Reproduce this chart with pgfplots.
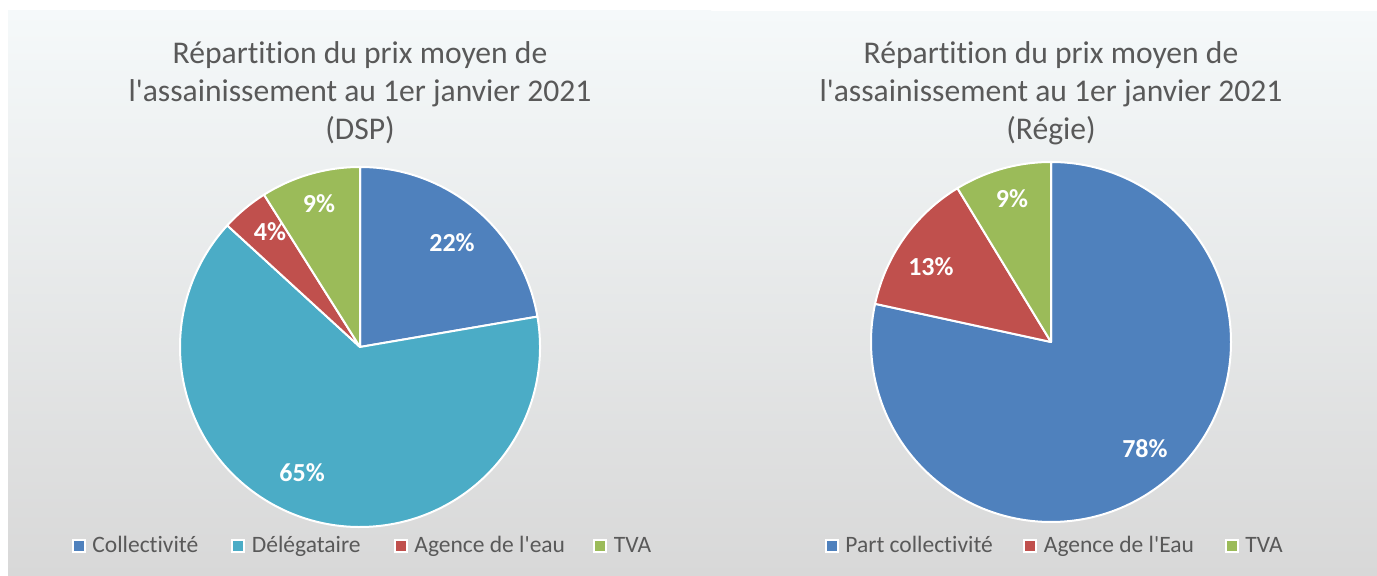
\documentclass[border=0pt]{standalone}
\usepackage{pgfplots}
\pgfplotsset{compat=1.18}
\usepackage{pgfplotstable}
\usepackage{fontspec}
\setmainfont{Carlito}[Ligatures={TeXOff,NoCommon}]

\definecolor{pblue}{HTML}{4F81BD}
\definecolor{pteal}{HTML}{4BACC6}
\definecolor{pred}{HTML}{C0504D}
\definecolor{pgreen}{HTML}{9BBB59}
\definecolor{txt}{HTML}{595959}
\definecolor{bgtop}{HTML}{F5F9FA}
\definecolor{bgbot}{HTML}{D8D8D8}

\newcommand{\titlefont}{\fontsize{15.8pt}{19pt}\selectfont}
\newcommand{\legfont}{\fontsize{11.75pt}{14pt}\selectfont}
\newcommand{\labelfont}{\fontsize{13pt}{15pt}\selectfont\bfseries}

% shares in percent, clockwise from 12 o'clock; lx ly = label position (radius units)
\pgfplotstableread{
part value col lx ly
Collectivite 22.3 pblue 0.511 0.578
Delegataire 64.5 pteal -0.322 -0.700
Agence 4.25 pred -0.500 0.639
TVA 8.95 pgreen -0.228 0.794
}\dsp
\pgfplotstableread{
part value col lx ly
Collectivite 78.4 pblue 0.522 -0.594
Agence 12.9 pred -0.667 0.417
TVA 8.7 pgreen -0.217 0.794
}\regie

\newcommand{\drawpie}[1]{%
  \pgfplotstablegetrowsof{#1}%
  \pgfmathtruncatemacro\lastrow{\pgfplotsretval-1}%
  \def\cum{0}%
  \pgfplotsforeachungrouped \i in {0,...,\lastrow}{%
    \pgfplotstablegetelem{\i}{value}\of{#1}\let\val\pgfplotsretval
    \pgfplotstablegetelem{\i}{col}\of{#1}\let\col\pgfplotsretval
    \pgfplotstablegetelem{\i}{lx}\of{#1}\let\lx\pgfplotsretval
    \pgfplotstablegetelem{\i}{ly}\of{#1}\let\ly\pgfplotsretval
    \pgfmathsetmacro\aS{90-3.6*\cum}%
    \pgfmathsetmacro\cum{\cum+\val}%
    \pgfmathsetmacro\aE{90-3.6*\cum}%
    \pgfmathsetmacro\sx{cos(\aS)}\pgfmathsetmacro\sy{sin(\aS)}%
    \pgfmathtruncatemacro\pct{round(\val)}%
    \edef\doslice{%
      \noexpand\fill[\col, draw=white, line width=1pt, line join=round]
        (axis cs:0,0) -- (axis cs:\sx,\sy)
        arc[start angle=\aS, end angle=\aE, radius=90pt] -- cycle;
      \noexpand\node[text=white, font=\noexpand\labelfont] at (axis cs:\lx,\ly) {\pct\noexpand\%};
    }\doslice
  }%
}

\newcommand{\legitem}[3]{% x of square centre (pt), colour, text
  \fill[#2, draw=white, line width=1pt] (#1pt-3pt,12pt) rectangle (#1pt+3pt,18pt);
  \node[anchor=base west, inner sep=0pt, text=txt, font=\legfont] at (#1pt+6.75pt,11.5pt) {#3};
}

\begin{document}
\begin{tikzpicture}
\fill[white] (0pt,0pt) rectangle (688.5pt,288pt);
\shade[top color=bgtop, bottom color=bgbot] (4pt,0pt) rectangle (355.5pt,282.5pt);
\shade[top color=bgtop, bottom color=bgbot] (355.5pt,0pt) rectangle (688.5pt,282pt);

% left: DSP
\node[anchor=base, text=txt, font=\titlefont] at (180pt,256pt) {Répartition du prix moyen de};
\node[anchor=base, text=txt, font=\titlefont] at (180pt,237pt) {l'assainissement au 1er janvier 2021};
\node[anchor=base, text=txt, font=\titlefont] at (180pt,218pt) {(DSP)};
\begin{axis}[at={(180pt,114.5pt)}, anchor=center, x=90pt, y=90pt,
  xmin=-1.05, xmax=1.05, ymin=-1.05, ymax=1.05, hide axis, clip=false]
  \drawpie{\dsp}
\end{axis}
\legitem{39.25}{pblue}{Collectivité}
\legitem{119}{pteal}{Délégataire}
\legitem{200.25}{pred}{Agence de l'eau}
\legitem{300}{pgreen}{TVA}

% right: Regie
\node[anchor=base, text=txt, font=\titlefont] at (525.5pt,256pt) {Répartition du prix moyen de};
\node[anchor=base, text=txt, font=\titlefont] at (525.5pt,237pt) {l'assainissement au 1er janvier 2021};
\node[anchor=base, text=txt, font=\titlefont] at (525.5pt,218pt) {(Régie)};
\begin{axis}[at={(525.5pt,117pt)}, anchor=center, x=90pt, y=90pt,
  xmin=-1.05, xmax=1.05, ymin=-1.05, ymax=1.05, hide axis, clip=false]
  \drawpie{\regie}
\end{axis}
\legitem{415.75}{pblue}{Part collectivité}
\legitem{515}{pred}{Agence de l'Eau}
\legitem{615.75}{pgreen}{TVA}
\end{tikzpicture}
\end{document}
